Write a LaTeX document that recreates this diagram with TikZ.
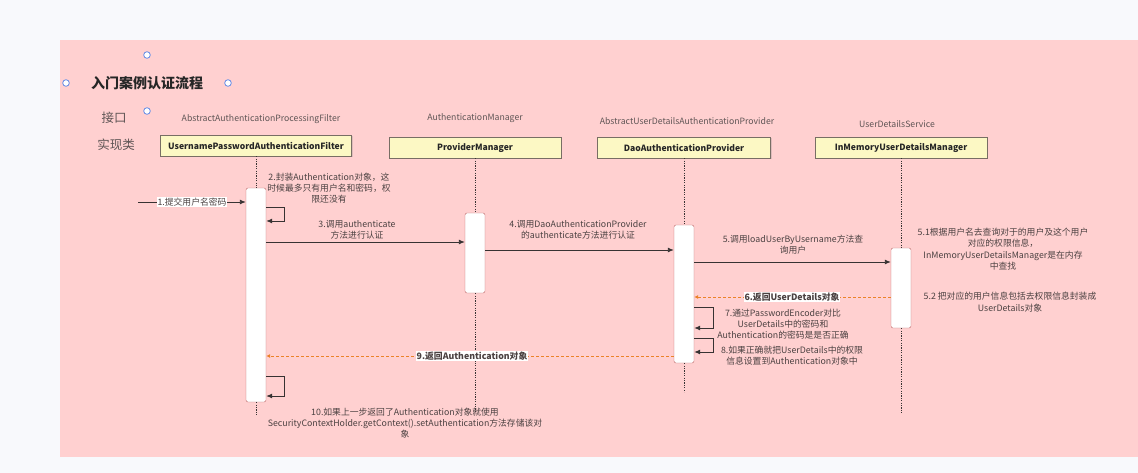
\documentclass[tikz,border=0pt]{standalone}
\usepackage{fontspec}
\setmainfont{Noto Sans CJK SC}
\usetikzlibrary{arrows.meta,shadows}
\definecolor{pagebg}{RGB}{248,249,252}
\definecolor{pinkbg}{RGB}{255,208,208}
\definecolor{boxfill}{RGB}{252,248,196}
\definecolor{boxdraw}{RGB}{120,110,100}
\definecolor{barc}{RGB}{190,100,100}
\definecolor{txt}{RGB}{75,65,65}
\definecolor{ltxt}{RGB}{95,85,85}
\definecolor{msg}{RGB}{55,50,50}
\definecolor{ret}{RGB}{235,130,40}
\definecolor{handle}{RGB}{100,140,230}
\tikzset{
  lbl/.style={font=\fontsize{8.8}{11.3}\selectfont, text=txt, align=center, inner sep=1pt},
  iface/.style={font=\fontsize{8.7}{11}\selectfont, text=ltxt, inner sep=0pt},
  cls/.style={draw=boxdraw, fill=boxfill, minimum height=21pt, inner sep=0pt,
    font=\fontsize{8.6}{10}\selectfont\bfseries, text=black!85,
    drop shadow={shadow xshift=1pt, shadow yshift=-1pt, opacity=0.25}},
  actbar/.style={draw=barc, fill=white, rounded corners=2pt, minimum width=20pt, inner sep=0pt},
  life/.style={draw=msg, line width=1pt, dash pattern=on 1.2pt off 1.2pt},
  call/.style={draw=msg, line width=0.9pt, -{Latex[length=6pt,width=5pt]}},
  back/.style={draw=ret, line width=0.8pt, dash pattern=on 3pt off 2pt, -{Latex[length=4pt,width=4pt]}},
  retlbl/.style={font=\fontsize{8.8}{10}\selectfont\bfseries, text=txt, fill=white, inner sep=1pt},
  hdl/.style={draw=handle, fill=white, line width=0.8pt},
  side/.style={font=\fontsize{12.5}{14}\selectfont, text=ltxt, inner sep=0pt}
}
\begin{document}
\begin{tikzpicture}[x=1pt,y=-1pt]
\useasboundingbox (0,0) rectangle (1138,473);
\fill[pagebg] (0,0) rectangle (1138,473);
\fill[pinkbg] (60,40) rectangle (1138,457);

% selection handles
\draw[hdl] (147,55) circle (3.3);
\draw[hdl] (66,83) circle (3.3);
\draw[hdl] (228,83) circle (3.3);
\draw[hdl] (147,111) circle (3.3);

\node[font=\fontsize{14}{16}\selectfont\bfseries, text=black!85, anchor=west, inner sep=0pt] (title) at (91,83) {入门案例认证流程};
\node[side] (jk) at (114,118) {接口};
\node[side] (sxl) at (116,145) {实现类};

% interfaces
\node[iface] (i1) at (261,119) {AbstractAuthenticationProcessingFilter};
\node[iface] (i2) at (475,118) {AuthenticationManager};
\node[iface] (i3) at (687,121) {AbstractUserDetailsAuthenticationProvider};
\node[iface] (i4) at (897,124) {UserDetailsService};

% classes
\node[cls, minimum width=191pt] (c1) at (256,145.5) {UsernamePasswordAuthenticationFilter};
\node[cls, minimum width=172pt] (c2) at (475,147.5) {ProviderManager};
\node[cls, minimum width=173pt] (c3) at (684,147.5) {DaoAuthenticationProvider};
\node[cls, minimum width=172pt] (c4) at (901,147.5) {InMemoryUserDetailsManager};

% activation bars
\node[actbar, minimum height=214pt] (b1) at (256,295) {};
\node[actbar, minimum height=80pt] (b2) at (475,253) {};
\node[actbar, minimum height=138pt] (b3) at (684,294) {};
\node[actbar, minimum height=80pt] (b4) at (901,288) {};

% lifelines
\coordinate (e1) at (256,416);
\coordinate (e2) at (475,413);
\coordinate (e3) at (684,392);
\coordinate (e4) at (901,414);
\draw[life] (c1.south) -- (b1.north);
\draw[life] (b1.south) -- (e1);
\draw[life] (c2.south) -- (b2.north);
\draw[life] (b2.south) -- (e2);
\draw[life] (c3.south) -- (b3.north);
\draw[life] (b3.south) -- (e3);
\draw[life] (c4.south) -- (b4.north);
\draw[life] (b4.south) -- (e4);

% 1
\coordinate (start) at (138,202);
\draw[call] (start) -- (b1.west |- 0,202);
\node[lbl, fill=white, inner sep=0.5pt] (l1) at (192,202) {1.提交用户名密码};

% 2 self
\draw[call] (b1.east |- 0,207) -- (284,207) -- (284,221) -- (b1.east |- 0,221);
\node[lbl] (l2) at (329,188) {2.封装Authentication对象，这\\时候最多只有用户名和密码，权\\限还没有};

% 3
\draw[call] (b1.east |- 0,242) -- (b2.west |- 0,242);
\node[lbl] (l3) at (357,230) {3.调用authenticate\\方法进行认证};

% 4
\draw[call] (b2.east |- 0,250) -- (b3.west |- 0,250);
\node[lbl] (l4) at (578,229.5) {4.调用DaoAuthenticationProvider\\的authenticate方法进行认证};

% 5
\draw[call] (b3.east |- 0,262) -- (b4.west |- 0,262);
\node[lbl] (l5) at (793,245) {5.调用loadUserByUsername方法查\\询用户};

% 5.1
\node[lbl] (l51) at (1003,249) {5.1根据用户名去查询对于的用户及这个用户\\对应的权限信息，\\InMemoryUserDetailsManager是在内存\\中查找};

% 6
\draw[back] (b4.west |- 0,297) -- (b3.east |- 0,297);
\node[retlbl] (l6) at (792,297) {6.返回UserDetails对象};

% 5.2
\node[lbl] (l52) at (1010,302) {5.2 把对应的用户信息包括去权限信息封装成\\UserDetails对象};

% 7 self
\draw[call] (b3.east |- 0,307) -- (713,307) -- (713,328) -- (b3.east |- 0,328);
\node[lbl] (l7) at (783,324) {7.通过PasswordEncoder对比\\UserDetails中的密码和\\Authentication的密码是是否正确};

% 8 self
\draw[call] (b3.east |- 0,338) -- (713,338) -- (713,352) -- (b3.east |- 0,352);
\node[lbl] (l8) at (792,356) {8.如果正确就把UserDetails中的权限\\信息设置到Authentication对象中};

% 9
\draw[back] (b3.west |- 0,356) -- (b1.east |- 0,356);
\node[retlbl] (l9) at (472,356) {9.返回Authentication对象};

% 10 self
\draw[call] (b1.east |- 0,376) -- (284,376) -- (284,396) -- (b1.east |- 0,396);
\node[lbl] (l10) at (405,423) {10.如果上一步返回了Authentication对象就使用\\SecurityContextHolder.getContext().setAuthentication方法存储该对\\象};
\end{tikzpicture}
\end{document}
